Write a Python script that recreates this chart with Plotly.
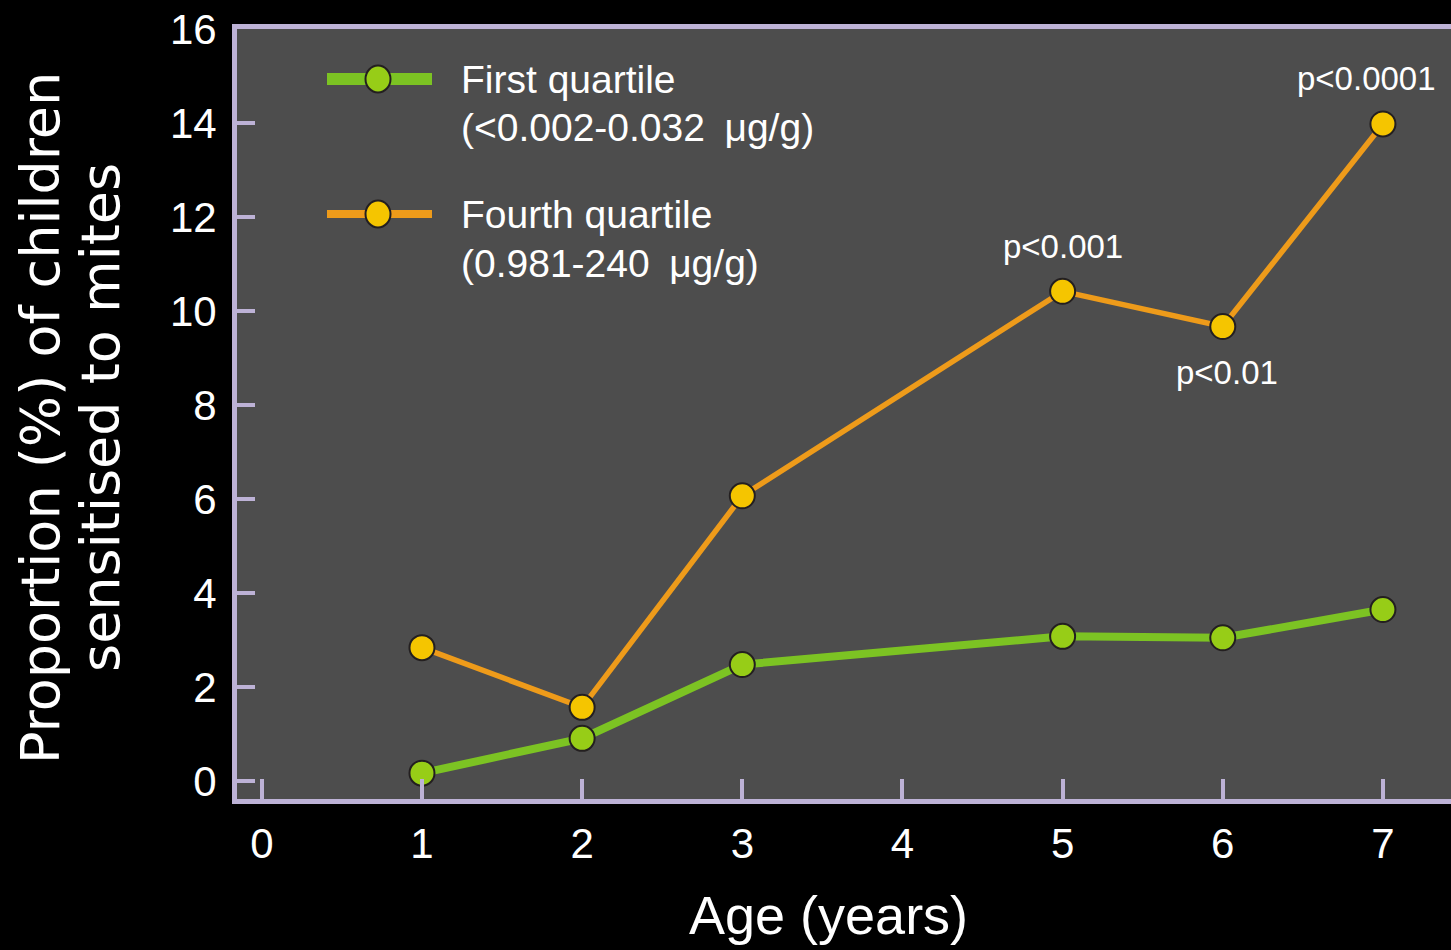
import plotly.graph_objects as go

# Age in years and proportion (%) of children sensitised to mites
ages = [1, 2, 3, 5, 6, 7]
first_quartile = [0.17, 0.91, 2.48, 3.08, 3.05, 3.65]
fourth_quartile = [2.84, 1.57, 6.07, 10.42, 9.67, 13.98]

x_ticks = [0, 1, 2, 3, 4, 5, 6, 7]
y_ticks = [0, 2, 4, 6, 8, 10, 12, 14, 16]

# p-value labels on the fourth-quartile series
p_ages = [5, 6, 7]
p_labels = ["p<0.001", "p<0.01", "p<0.0001"]

GREEN_LINE = "#7CC323"
GREEN_FILL = "#97CD17"
ORANGE_LINE = "#EE9B1A"
ORANGE_FILL = "#F5C500"
EDGE = "#231F20"
AXIS = "#BDB2D6"
FONT = "Liberation Sans, Arial, sans-serif"

W, H = 1451, 950
PL, PT, PR, PB = 237, 29, 0, 151
PW, PH = W - PL - PR, H - PT - PB


def px_x(p):
    return (p - PL) / PW


def px_y(p):
    return (PT + PH - p) / PH


fig = go.Figure()
fig.add_trace(go.Scatter(
    x=ages, y=first_quartile, mode="lines+markers", name="First quartile",
    line=dict(color=GREEN_LINE, width=8),
    marker=dict(size=25, color=GREEN_FILL, line=dict(color=EDGE, width=2)),
    showlegend=False,
))
fig.add_trace(go.Scatter(
    x=ages, y=fourth_quartile, mode="lines+markers", name="Fourth quartile",
    line=dict(color=ORANGE_LINE, width=5.5),
    marker=dict(size=25, color=ORANGE_FILL, line=dict(color=EDGE, width=2)),
    showlegend=False,
))

# p-value annotations attached to their points
offsets = {5: (0, 45), 6: (4, -46), 7: (-16, 45)}
for a, lab in zip(p_ages, p_labels):
    yv = fourth_quartile[ages.index(a)]
    dx, dy = offsets[a]
    fig.add_annotation(x=a, y=yv, text=lab, showarrow=False, xshift=dx, yshift=dy,
                       font=dict(family=FONT, size=33, color="white"))

# legend drawn as line + marker samples with text
shapes = []
annotations = []
legend_rows = [
    (79, GREEN_LINE, GREEN_FILL, 12, "First quartile", "(<0.002-0.032\u2002\u03bcg/g)"),
    (214, ORANGE_LINE, ORANGE_FILL, 8, "Fourth quartile", "(0.981-240\u2002\u03bcg/g)"),
]
for yp, lc, fc, lw, t1, t2 in legend_rows:
    shapes.append(dict(type="line", xref="paper", yref="paper",
                       x0=px_x(327), x1=px_x(432), y0=px_y(yp), y1=px_y(yp),
                       line=dict(color=lc, width=lw)))
    shapes.append(dict(type="circle", xref="paper", yref="paper",
                       xsizemode="pixel", ysizemode="pixel",
                       xanchor=px_x(378), yanchor=px_y(yp),
                       x0=-12.5, x1=12.5, y0=-13.5, y1=13.5,
                       fillcolor=fc, line=dict(color=EDGE, width=2)))
    annotations.append(dict(xref="paper", yref="paper", x=px_x(459), y=px_y(yp + 1),
                            xanchor="left", yanchor="middle", showarrow=False, text=t1,
                            font=dict(family=FONT, size=39, color="white")))
    annotations.append(dict(xref="paper", yref="paper", x=px_x(459), y=px_y(yp + 49),
                            xanchor="left", yanchor="middle", showarrow=False, text=t2,
                            font=dict(family=FONT, size=39, color="white")))

# axis titles
annotations.append(dict(xref="paper", yref="paper", x=px_x(828), y=px_y(915),
                        xanchor="center", yanchor="middle", showarrow=False,
                        text="Age (years)", font=dict(family=FONT, size=54, color="white")))
annotations.append(dict(xref="paper", yref="paper", x=px_x(40), y=px_y(418),
                        xanchor="center", yanchor="middle", showarrow=False, textangle=-90,
                        text="Proportion (%) of children",
                        font=dict(family="DejaVu Sans", size=54, color="white")))
annotations.append(dict(xref="paper", yref="paper", x=px_x(100), y=px_y(418),
                        xanchor="center", yanchor="middle", showarrow=False, textangle=-90,
                        text="sensitised to mites",
                        font=dict(family="DejaVu Sans", size=54, color="white")))

for a in annotations:
    fig.add_annotation(**a)

fig.update_layout(
    width=W, height=H,
    margin=dict(l=PL, r=PR, t=PT, b=PB),
    paper_bgcolor="black", plot_bgcolor="#4D4D4D",
    shapes=shapes,
    xaxis=dict(range=[-0.155, 7.425], tickvals=x_ticks, ticks="inside", ticklen=20,
               tickwidth=4, tickcolor=AXIS, showline=True, linecolor=AXIS, linewidth=5,
               mirror=True, showgrid=False, zeroline=False, ticklabelstandoff=4,
               tickfont=dict(family=FONT, size=42, color="white")),
    yaxis=dict(range=[-0.38, 16.0], tickvals=y_ticks, ticks="inside", ticklen=18,
               tickwidth=4, tickcolor=AXIS, showline=True, linecolor=AXIS, linewidth=5,
               showgrid=False, zeroline=False, ticklabelstandoff=7,
               tickfont=dict(family=FONT, size=42, color="white")),
)

fig.write_html("out.html")
